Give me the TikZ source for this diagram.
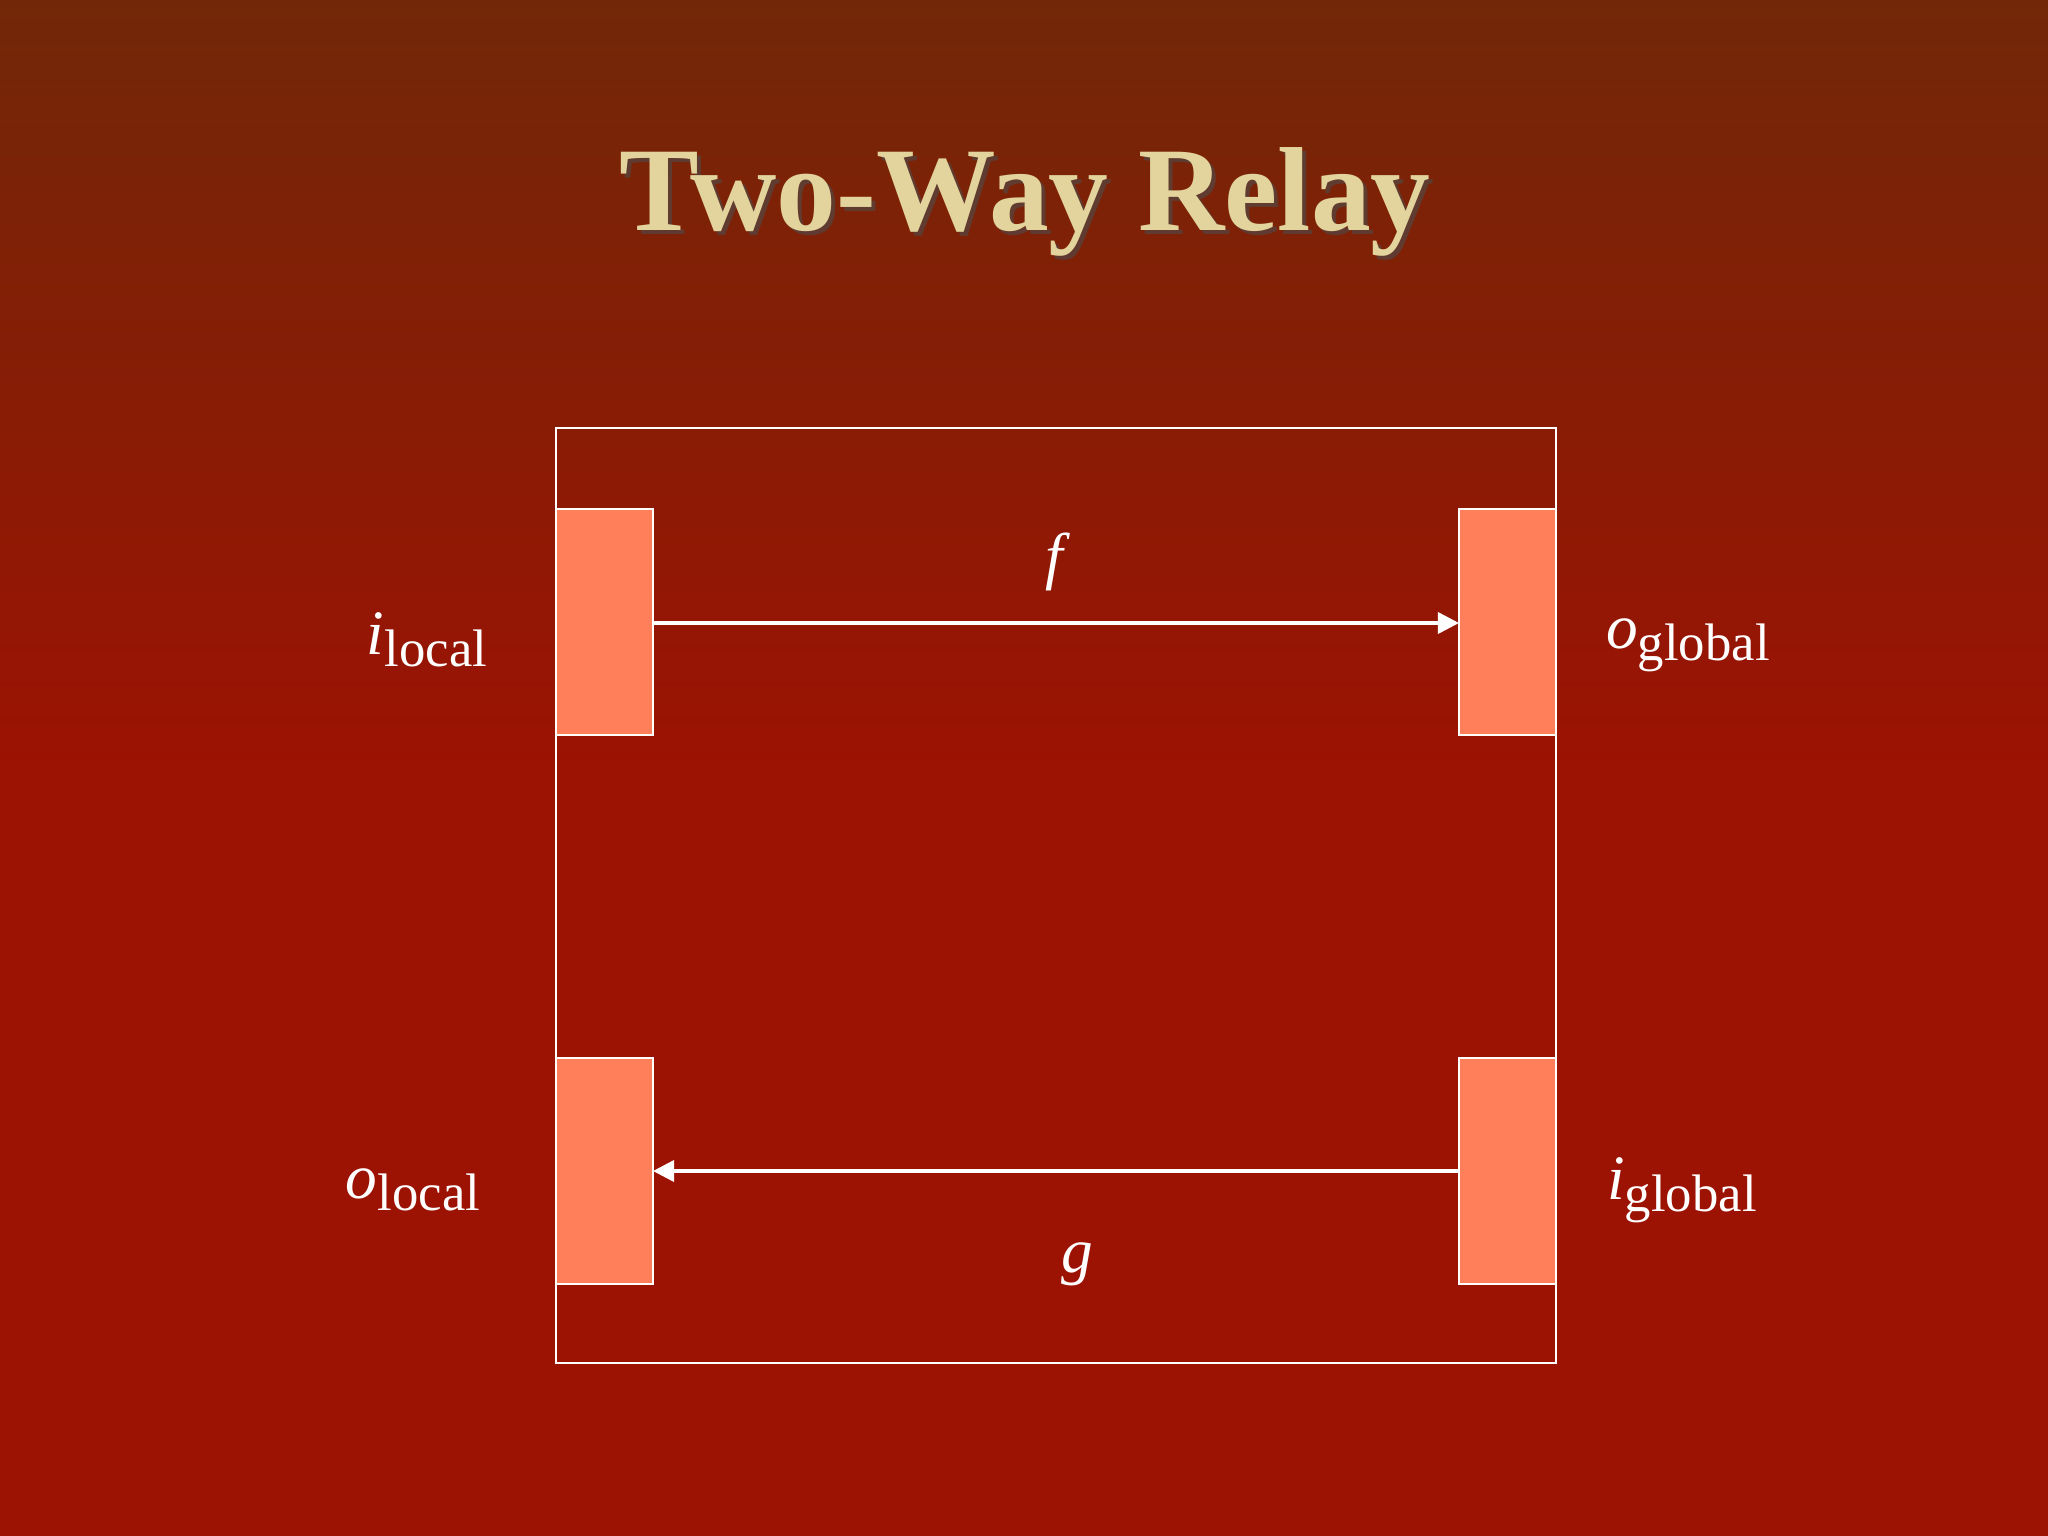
\documentclass[tikz,border=0pt]{standalone}
\usepackage{fontspec}
\setmainfont{Liberation Serif}
\usetikzlibrary{arrows.meta}
\definecolor{bgtop}{HTML}{722808}
\definecolor{bgbot}{HTML}{9C1203}
\definecolor{port}{HTML}{FF7F5A}
\definecolor{titlec}{HTML}{E2D49C}
\tikzset{
  portbox/.style={draw=white,line width=0.6pt,fill=port},
  conn/.style={draw=white,line width=1pt,-{Triangle[length=6pt,width=6pt]}},
  lbl/.style={text=white,font=\fontsize{18}{20}\selectfont,inner sep=0pt},
}
\newcommand{\lab}[2]{\textit{#1}\raisebox{-0.4ex}{\fontsize{15}{17}\selectfont #2}}
\begin{document}
\begin{tikzpicture}[x=0.01cm,y=-0.01cm]
\shade[top color=bgtop,bottom color=bgbot,middle color=bgbot] (0,0) rectangle (2048,1536);
\useasboundingbox (0,0) rectangle (2048,1536);
\node[text=black!70,opacity=0.6,font=\fontsize{34}{40}\selectfont\bfseries] at (1029,206) {Two-Way Relay};
\node[text=titlec,font=\fontsize{34}{40}\selectfont\bfseries] (title) at (1025,202) {Two-Way Relay};
\draw[white,line width=0.6pt] (556,428) rectangle (1556,1363);
\path[portbox] (556,509) rectangle (653,735) node[midway] (il) {};
\path[portbox] (1459,509) rectangle (1556,735) node[midway] (og) {};
\path[portbox] (556,1058) rectangle (653,1284) node[midway] (ol) {};
\path[portbox] (1459,1058) rectangle (1556,1284) node[midway] (ig) {};
\coordinate (a1) at (653,623); \coordinate (a2) at (1459,623);
\coordinate (b1) at (1459,1171); \coordinate (b2) at (653,1171);
\draw[conn] (a1) -- (a2);
\draw[conn] (b1) -- (b2);
\node[lbl] (f) at (1058,562) {\textit{f}};
\node[lbl] (g) at (1077,1264) {\textit{g}};
\node[lbl] (tl) at (427,640) {\lab{i}{local}};
\node[lbl] (tg) at (1688,645) {\lab{o}{global}};
\node[lbl] (tol) at (413,1190) {\lab{o}{local}};
\node[lbl] (tig) at (1682,1190) {\lab{i}{global}};
\end{tikzpicture}
\end{document}
